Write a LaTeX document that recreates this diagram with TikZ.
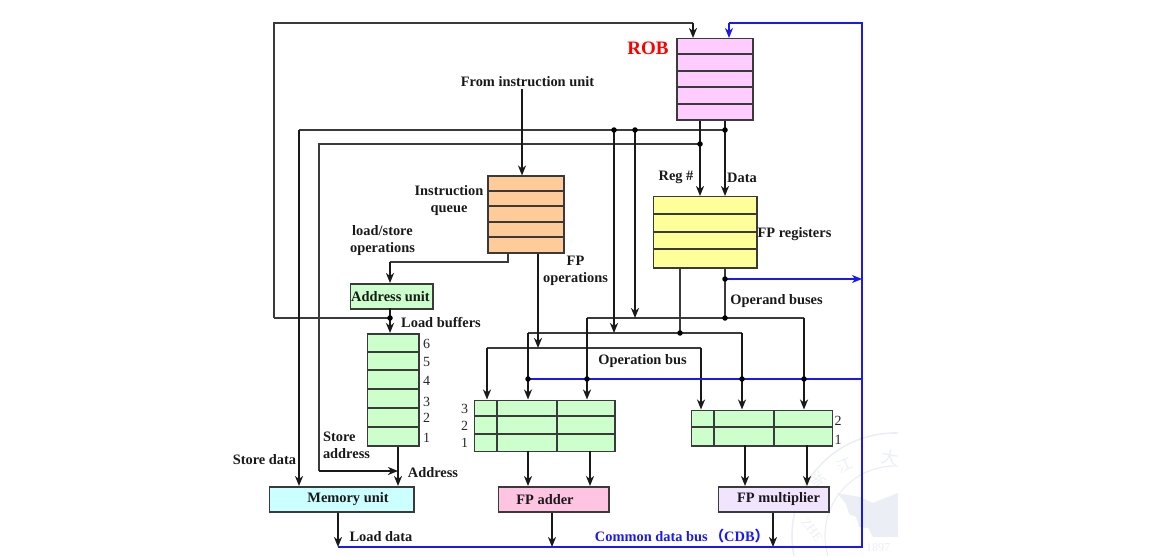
\documentclass[tikz,border=0pt]{standalone}
\usepackage{fontspec}
\setmainfont{Liberation Serif}
\newfontfamily\cjkwm{Noto Sans CJK SC}
\usetikzlibrary{arrows.meta,calc}
\definecolor{linegray}{HTML}{3A3A3A}
\definecolor{busblue}{HTML}{1A1AF0}
\definecolor{robfill}{HTML}{FFCCFF}
\definecolor{iqfill}{HTML}{FFCC99}
\definecolor{regfill}{HTML}{FFFF99}
\definecolor{rsfill}{HTML}{CCFFCC}
\definecolor{memfill}{HTML}{CCFFFF}
\definecolor{addfill}{HTML}{FFC4E1}
\definecolor{mulfill}{HTML}{F0E4FF}
\definecolor{wm}{HTML}{EBEEF4}
\tikzset{
  x=1pt,y=-1pt,
  unit/.style={draw=linegray,line width=1.5pt,inner sep=0pt,anchor=north west},
  lab/.style={inner sep=0pt,font=\bfseries\fontsize{14.4}{17}\selectfont,text=black!90,align=center},
  num/.style={inner sep=0pt,font=\fontsize{14}{14}\selectfont,text=black!85},
  rule/.style={draw=linegray,line width=1.4pt},
  thin bus/.style={draw=linegray,line width=1.5pt},
  wire/.style={draw=black!90,line width=2.2pt,-{Stealth[length=10pt,width=8pt,inset=3pt]}},
  cdb/.style={draw=busblue,line width=1.5pt},
  cdbarrow/.style={draw=busblue,line width=1.6pt,-{Stealth[length=10pt,width=8pt,inset=3pt]}},
  dot/.style={circle,fill=black,inner sep=0pt,minimum size=5.5pt},
}
\newcommand{\unitbox}[6]{% name, x0, y0, x1, y1, fill
  \node[unit,fill=#6,minimum width=#4pt-#2pt,minimum height=#5pt-#3pt] (#1) at (#2,#3) {};
}
\begin{document}
\begin{tikzpicture}
\useasboundingbox (0,0) rectangle (1169,556);
% watermark
\begin{scope}
\clip (780,425) rectangle (898,556);
\draw[wm,line width=1.6pt] (895,536) circle (103);
\draw[wm,line width=1.2pt] (895,536) circle (70);
\fill[wm] (837,493) -- (860,497) -- (873,503) -- (880,500) -- (898,493) -- (898,537) -- (873,537) -- (868,528) -- (859,527) -- (856,517) -- (849,514) -- (846,504) -- cycle;
\node[wm,font=\cjkwm\fontsize{15}{15}\selectfont,rotate=25] (wmone) at (845,465) {江};
\node[wm,font=\cjkwm\fontsize{15}{15}\selectfont,rotate=-50] (wmtwo) at (818,480) {浙};
\node[wm,font=\cjkwm\fontsize{17}{17}\selectfont,rotate=-10] (wmthree) at (890,458) {大};
\node[wm,font=\fontsize{13}{13}\selectfont,rotate=-52] (wmfour) at (812,530) {ZHE};
\node[wm,font=\fontsize{12}{12}\selectfont] (wmfive) at (878,548) {1897};
\end{scope}
% units
\unitbox{rob}{676}{38}{752}{119.5}{robfill}
\unitbox{iq}{487}{175.5}{563}{252}{iqfill}
\unitbox{regs}{652.5}{196}{756}{267}{regfill}
\unitbox{addr}{349.5}{283}{432}{308}{rsfill}
\unitbox{lb}{366.5}{333}{418}{445}{rsfill}
\unitbox{addrs}{473.5}{399.5}{614}{450.5}{rsfill}
\unitbox{mulrs}{690.5}{409.5}{831.5}{445}{rsfill}
\unitbox{mem}{268.5}{486}{413}{511}{memfill}
\unitbox{adder}{497.5}{486}{608}{511}{addfill}
\unitbox{mult}{717.5}{486}{828}{511}{mulfill}
% dividers
\foreach \y in {54,71,87,104} \draw[rule] (676,\y) -- (752,\y);
\foreach \y in {191,206,222,237} \draw[rule] (487,\y) -- (563,\y);
\foreach \y in {214,232,249} \draw[rule] (652.5,\y) -- (756,\y);
\foreach \y in {352,370,389,408,427} \draw[rule] (366.5,\y) -- (418,\y);
\foreach \y in {416,434} \draw[rule] (473.5,\y) -- (614,\y);
\foreach \x in {497,557} \draw[rule] (\x,399.5) -- (\x,450.5);
\draw[rule] (690.5,427) -- (831.5,427);
\foreach \x in {714,774} \draw[rule] (\x,409.5) -- (\x,445);
% junctions
\coordinate (tl) at (274,23);
\coordinate (tr) at (693,23);
\coordinate (ll) at (274,318);
\coordinate (jlb) at (390,318);
\coordinate (bt) at (299,130);
\coordinate (bd) at (725,130);
\coordinate (st) at (319,144);
\coordinate (sr) at (700,144);
\coordinate (sb) at (319,471);
\coordinate (sa) at (398,471);
\coordinate (ja) at (614,130);
\coordinate (jb) at (635,130);
\coordinate (opa) at (635,318);
\coordinate (opb) at (614,333);
\coordinate (opc) at (538,348);
\coordinate (ol) at (587,318);
\coordinate (or) at (804,318);
\coordinate (ml) at (528,333);
\coordinate (mr) at (742,333);
\coordinate (nl) at (487,348);
\coordinate (nr) at (701,348);
\coordinate (ju) at (680,333);
\coordinate (jv) at (725,318);
\coordinate (jw) at (725,279);
\coordinate (cw) at (862,279);
\coordinate (cx) at (862,379);
\coordinate (ca) at (528,379);
\coordinate (cb) at (587,379);
\coordinate (cc) at (742,379);
\coordinate (cd) at (804,379);
\coordinate (ctr) at (862,23);
\coordinate (ctl) at (729,23);
\coordinate (cbr) at (862,547);
\coordinate (cm) at (338,547);
\coordinate (cf) at (552,547);
\coordinate (cg) at (773,547);
\coordinate (from) at (522,89);
% thin buses
\draw[thin bus] (ll) -- (tl) -- (tr);
\draw[thin bus] (ll) -- (jlb);
\draw[thin bus] (bd) -- (bt);
\draw[thin bus] (sr) -- (st) -- (sb);
\draw[thin bus] (ol) -- (or);
\draw[thin bus] (nl) -- (nr);
\draw[thin bus] (ml) -- (mr);
\draw[thin bus] (regs.south -| ju) -- (ju);
\draw[thin bus] (regs.south -| jv) -- (jv);
\draw[thin bus] (iq.south -| 508,0) -- (508,262) -- (390,262);
% wires
\draw[wire] (tr) -- (tr |- rob.north);
\draw[wire] (from) -- (from |- iq.north);
\draw[wire] (rob.south -| sr) -- (sr |- regs.north);
\draw[wire] (rob.south -| bd) -- (bd |- regs.north);
\draw[wire] (bt) -- (bt |- mem.north);
\draw[wire] (sb) -- (sa);
\draw[wire] (390,262) -- (390,283);
\draw[wire] (390,308) -- (390,333);
\draw[wire] (lb.south -| sa) -- (sa |- mem.north);
\draw[wire] (ja) -- (opb);
\draw[wire] (jb) -- (opa);
\draw[wire] (iq.south -| opc) -- (opc);
\draw[wire] (nl) -- (nl |- addrs.north);
\draw[wire] (ml) -- (ml |- addrs.north);
\draw[wire] (ol) -- (ol |- addrs.north);
\draw[wire] (nr) -- (nr |- mulrs.north);
\draw[wire] (mr) -- (mr |- mulrs.north);
\draw[wire] (or) -- (or |- mulrs.north);
\draw[wire] (528,450.5) -- (528,486);
\draw[wire] (590,450.5) -- (590,486);
\draw[wire] (745,445) -- (745,486);
\draw[wire] (807,445) -- (807,486);
\draw[wire] (mem.south -| cm) -- (cm);
\draw[wire] (adder.south -| cf) -- (cf);
\draw[wire] (mult.south -| cg) -- (cg);
% CDB
\draw[cdb] (cm) -- (cbr) -- (ctr) -- (ctl);
\draw[cdb] (ca) -- (cx);
\draw[cdbarrow] (ctl) -- (ctl |- rob.north);
\draw[cdbarrow] (jw) -- (cw);
% dots
\foreach \p in {jlb,ja,jb,bd,sr,ju,jv,jw,ca,cb,cc,cd}
  \node[dot] at (\p) {};
% labels
\node[inner sep=0pt,font=\bfseries\fontsize{19}{20}\selectfont,text=red] (roblab) at (648,48) {ROB};
\node[lab] (t1) at (527.5,81.5) {From instruction unit};
\node[lab] (t2) at (449,201) {Instruction\\queue};
\node[lab] (t3) at (382.5,241) {load/store\\operations};
\node[lab] (t4) at (575.5,271) {FP\\operations};
\node[lab] (t5) at (676,177) {Reg \#};
\node[lab] (t6) at (742,178) {Data};
\node[lab] (t7) at (794.5,234) {FP registers};
\node[lab] (t8) at (776.5,301.5) {Operand buses};
\node[lab] (t9) at (642.5,361) {Operation bus};
\node[lab] (t10) at (390.5,296.5) {Address unit};
\node[lab] (t11) at (441,323) {Load buffers};
\node[lab,align=left] (t12) at (346.5,445.5) {Store\\address};
\node[lab] (t13) at (264.5,460) {Store data};
\node[lab] (t14) at (433,472.5) {Address};
\node[lab] (t15) at (348,499.5) {Memory unit};
\node[lab] (t16) at (545,499.5) {FP adder};
\node[lab] (t17) at (778.5,499.5) {FP multiplier};
\node[lab] (t18) at (381,536.5) {Load data};
\node[lab,text=busblue] (t19) at (682,536) {Common data bus\hspace{2pt}{\cjkwm（}CDB{\cjkwm）}};
% numbers
\foreach \y/\n in {344/6,362/5,381/4,402/3,418/2,438/1}
  \node[num] (lbn\n) at (426.5,\y) {\n};
\foreach \y/\n in {409/3,426/2,443/1}
  \node[num] (arn\n) at (464.5,\y) {\n};
\node[num] (mrn2) at (838,421) {2};
\node[num] (mrn1) at (838,440) {1};
\end{tikzpicture}
\end{document}
